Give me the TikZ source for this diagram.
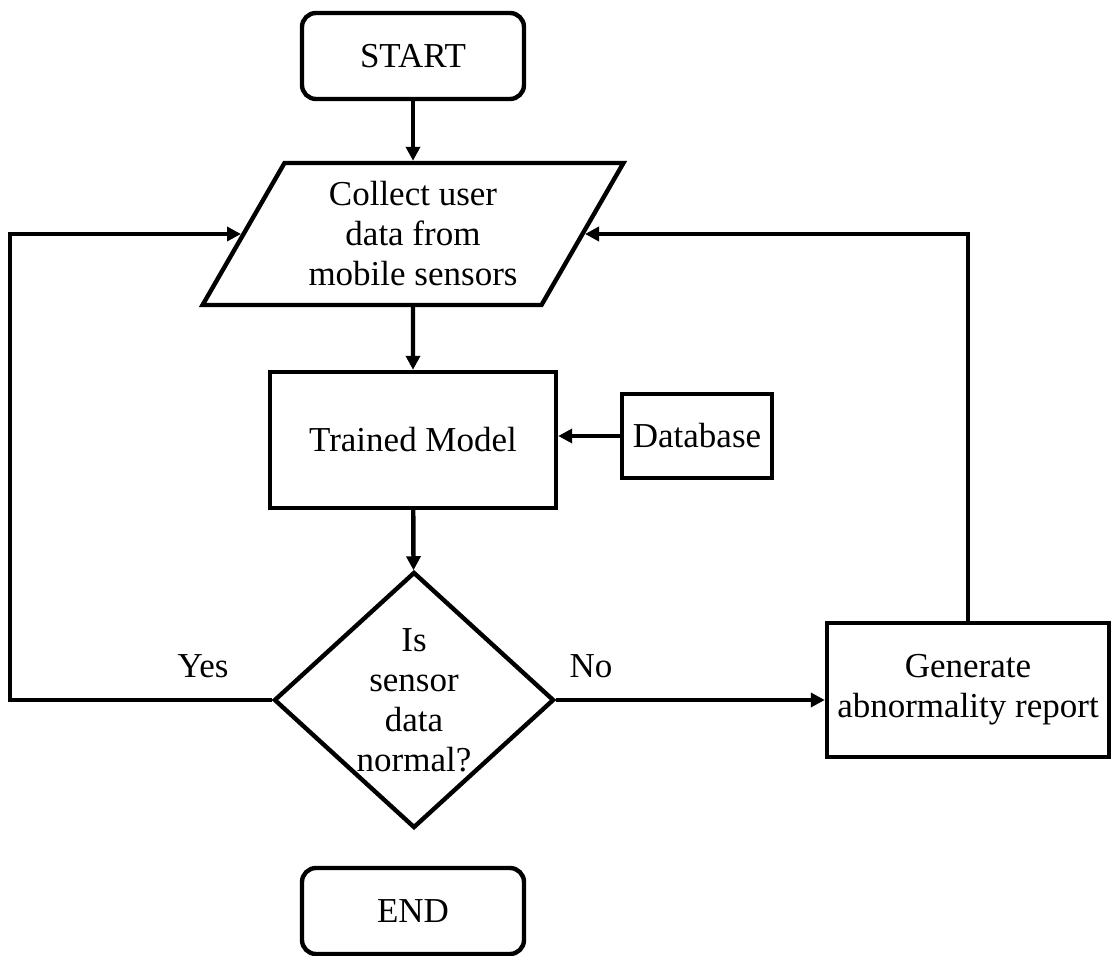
\documentclass[tikz,border=0pt]{standalone}
\usepackage{fontspec}
\setmainfont{Liberation Serif}
\usetikzlibrary{shapes.geometric,arrows.meta}
\begin{document}
\begin{tikzpicture}[x=0.5pt,y=-0.5pt,
  every node/.style={font=\fontsize{17.5}{20}\selectfont},
  line/.style={line width=2.2pt,-{Triangle[length=7pt,width=7pt]}},
  plain/.style={line width=2.2pt},
  term/.style={draw,line width=2.2pt,rounded corners=7pt,minimum width=111pt,minimum height=43pt},
  io/.style={draw,line width=2.2pt,trapezium,trapezium left angle=59,trapezium right angle=121,
    trapezium stretches=true,minimum width=211pt,minimum height=71pt,align=center},
  proc/.style={draw,line width=2.2pt,align=center},
  decision/.style={draw,line width=2.2pt,diamond,minimum width=140pt,minimum height=128pt,inner sep=0pt}]
  \useasboundingbox (0,0) rectangle (1112,956);
  \node[term] (start) at (413,56) {START};
  \node[io] (collect) at (413,234) {Collect user\\data from\\mobile sensors};
  \node[proc,minimum width=143pt,minimum height=68pt] (model) at (413,440) {Trained Model};
  \node[proc,minimum width=75pt,minimum height=42pt] (db) at (697,436) {Database};
  \node[decision] (dec) at (414,700) {};
  \node[align=center] (dectext) at (dec) {Is\\sensor\\data\\normal?};
  \node[proc,minimum width=141pt,minimum height=67pt] (gen) at (968,690) {Generate\\abnormality report};
  \node[term] (end) at (413,911) {END};
  \node (yes) at (203,666) {Yes};
  \node (no) at (591,666) {No};
  \draw[line] (start) -- (collect);
  \draw[line] (collect) -- (model);
  \draw[line] (db.west) -- (db.west -| model.east);
  \draw[line] (model) -- (dec);
  \draw[line] (dec.east) -- (dec.east -| gen.west);
  \draw[line] (dec.west) -- ++(-262,0) |- (collect.left side);
  \draw[line] (gen.north) |- (collect.right side);
\end{tikzpicture}
\end{document}
